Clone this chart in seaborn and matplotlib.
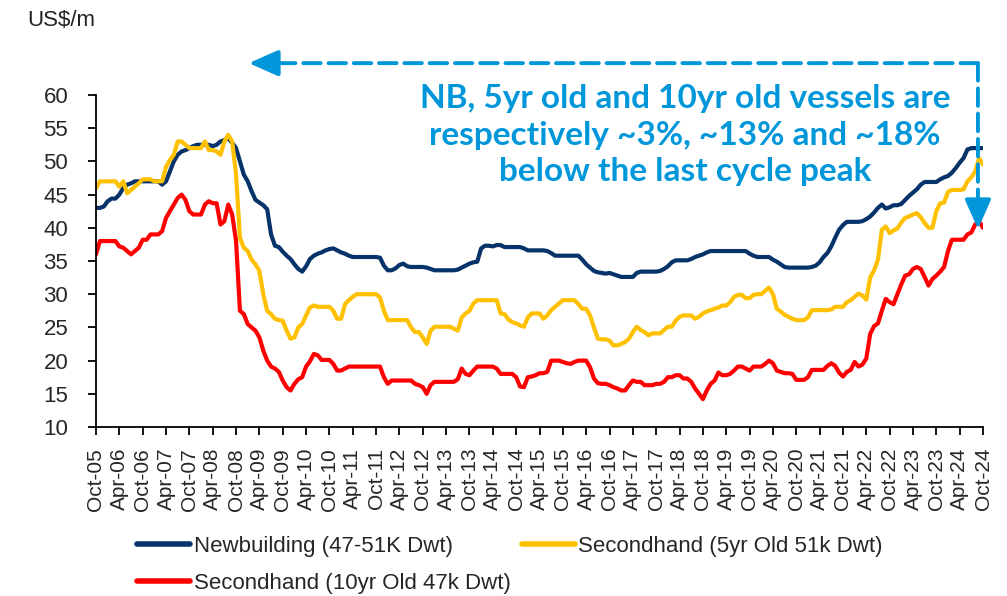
import numpy as np
import pandas as pd
import matplotlib
matplotlib.use("Agg")
import matplotlib.pyplot as plt
from matplotlib.lines import Line2D
import seaborn as sns

# ---------------- data (monthly, Oct-05 .. Oct-24) ----------------
months = pd.date_range("2005-10-01", "2024-10-01", freq="MS")

newbuilding = [
    43, 43, 43.2, 44, 44.4, 44.4, 45, 46, 46.5, 46.7,
    47, 47, 47, 47, 47, 47, 47, 46.5, 47, 48.5,
    50, 51, 51.5, 51.7, 52, 52.3, 52.5, 52.5, 52.5, 52.5,
    52.3, 52.5, 53, 53.2, 53.5, 52.8, 52, 50, 48, 47,
    45.5, 44.2, 43.8, 43.4, 42.8, 39, 37.3, 37.1, 36.4, 35.8,
    35.3, 34.5, 33.8, 33.4, 34.2, 35.3, 35.8, 36.1, 36.3, 36.6,
    36.8, 36.9, 36.6, 36.3, 36.1, 35.8, 35.6, 35.6, 35.6, 35.6,
    35.6, 35.6, 35.6, 35.5, 34.3, 33.6, 33.6, 33.9, 34.4, 34.6,
    34.2, 34.1, 34.1, 34.1, 34.1, 34, 33.8, 33.6, 33.6, 33.6,
    33.6, 33.6, 33.6, 33.7, 34, 34.3, 34.6, 34.8, 34.9, 36.9,
    37.3, 37.3, 37.2, 37.4, 37.4, 37.1, 37.1, 37.1, 37.1, 37.1,
    36.9, 36.6, 36.6, 36.6, 36.6, 36.6, 36.5, 36.2, 35.8, 35.8,
    35.8, 35.8, 35.8, 35.8, 35.8, 35.2, 34.5, 34, 33.5, 33.3,
    33.2, 33.1, 33.2, 33, 32.8, 32.6, 32.6, 32.6, 32.6, 33.2,
    33.4, 33.4, 33.4, 33.4, 33.4, 33.5, 33.8, 34.2, 34.8, 35.1,
    35.1, 35.1, 35.1, 35.3, 35.6, 35.8, 36, 36.3, 36.5, 36.5,
    36.5, 36.5, 36.5, 36.5, 36.5, 36.5, 36.5, 36.5, 36.1, 35.8,
    35.6, 35.6, 35.6, 35.6, 35.2, 34.9, 34.5, 34.1, 34, 34,
    34, 34, 34, 34, 34.1, 34.3, 34.8, 35.6, 36.2, 37.2,
    38.5, 39.7, 40.4, 40.9, 40.9, 40.9, 40.9, 41, 41.3, 41.7,
    42.3, 43, 43.5, 42.9, 43.1, 43.4, 43.4, 43.6, 44.2, 44.8,
    45.3, 45.8, 46.5, 46.9, 46.9, 46.9, 46.9, 47.3, 47.6, 47.8,
    48.3, 49, 49.8, 50.5, 51.8, 52, 52, 52, 52,
]

secondhand_5yr = [
    46, 47, 47, 47, 47, 47, 46.2, 47, 45.2, 45.7,
    46.2, 46.7, 47.3, 47.3, 47.3, 47, 47, 47, 49.2, 50.2,
    51, 53, 53, 52.5, 52, 52, 52, 52, 53, 51.7,
    51.7, 51.5, 51, 53, 54, 53, 48, 38.5, 37, 36.5,
    35.2, 34.5, 33.5, 30, 27.5, 27, 26.3, 26.1, 26, 24.5,
    23.3, 23.5, 25, 25.5, 26.8, 28, 28.3, 28.1, 28.1, 28.1,
    28.1, 27.5, 26.3, 26.3, 28.5, 29.1, 29.6, 30, 30, 30,
    30, 30, 30, 29.5, 27.5, 26.1, 26.1, 26.1, 26.1, 26.1,
    26.1, 25, 24.3, 24.3, 23.5, 22.5, 24.5, 25.1, 25.1, 25.1,
    25.1, 25.1, 24.8, 24.5, 26.5, 27.1, 27.5, 28.6, 29.1, 29.1,
    29.1, 29.1, 29.1, 29.1, 27.1, 27, 26.2, 25.8, 25.6, 25.3,
    25.1, 26.5, 27.1, 27.1, 27.1, 26.3, 26.8, 27.6, 28.1, 28.6,
    29.1, 29.1, 29.1, 29.1, 28.5, 27.8, 27.8, 26.8, 25, 23.3,
    23.2, 23.2, 23, 22.3, 22.3, 22.5, 22.8, 23.3, 24.3, 25.1,
    24.6, 24.3, 23.8, 24.1, 24.1, 24.1, 24.6, 25.1, 25.1, 26,
    26.6, 26.8, 26.8, 26.8, 26.3, 26.6, 27.1, 27.4, 27.6, 27.8,
    28, 28.3, 28.3, 28.8, 29.6, 29.9, 29.9, 29.4, 29.4, 29.9,
    30, 30, 30.5, 31, 30, 27.8, 27.4, 26.9, 26.6, 26.3,
    26.1, 26.1, 26.1, 26.5, 27.6, 27.6, 27.6, 27.6, 27.6, 27.7,
    28.1, 28.1, 28.1, 28.8, 29.1, 29.6, 30.1, 29.8, 29.2, 32.5,
    33.6, 35.2, 39.7, 40.2, 39.2, 39.6, 39.9, 40.8, 41.5, 41.7,
    42, 42.2, 41.6, 40.7, 40, 40, 42.5, 43.7, 43.8, 45.4,
    45.7, 45.7, 45.7, 45.8, 47, 47.6, 48.5, 50.5, 49.5,
]

secondhand_10yr = [
    36, 38, 38, 38, 38, 38, 37.2, 37, 36.5, 36,
    36.5, 37, 38.2, 38.2, 39, 39, 39, 39.5, 41.5, 42.5,
    43.5, 44.5, 45, 44.2, 42.5, 42, 42, 42, 43.5, 44,
    43.7, 43.7, 40.5, 41, 43.5, 42, 38, 27.5, 27, 25.5,
    25, 24.5, 23.5, 21.5, 20, 19.1, 18.8, 18.3, 17, 16,
    15.5, 16.5, 17.2, 17.5, 19.1, 19.9, 21, 20.8, 20.1, 20.1,
    20.1, 19.5, 18.5, 18.5, 18.8, 19.1, 19.1, 19.1, 19.1, 19.1,
    19.1, 19.1, 19.1, 19.1, 17.5, 16.5, 17, 17, 17, 17,
    17, 17, 16.5, 16.3, 16, 15, 16.3, 16.8, 16.8, 16.8,
    16.8, 16.8, 16.8, 17.2, 18.8, 18, 17.8, 18.5, 19.1, 19.1,
    19.1, 19.1, 19.1, 18.8, 18, 18, 18, 18, 17.5, 16.1,
    16, 17.5, 17.6, 17.8, 18.1, 18.1, 18.3, 20, 20, 20,
    19.8, 19.6, 19.5, 19.8, 20, 20, 20, 19, 17.3, 16.6,
    16.5, 16.5, 16.3, 16, 15.8, 15.5, 15.5, 16.3, 17, 16.8,
    16.8, 16.3, 16.3, 16.3, 16.5, 16.5, 16.8, 17.5, 17.5, 17.8,
    17.8, 17.3, 17.3, 16.8, 15.8, 15, 14.2, 15.5, 16.5, 17,
    18.2, 17.8, 17.8, 18, 18.5, 19.1, 19.1, 18.8, 18.5, 19.1,
    19.1, 19.1, 19.5, 20, 19.6, 18.5, 18.3, 18.1, 18.1, 18,
    17.1, 17.1, 17.1, 17.5, 18.6, 18.6, 18.6, 18.6, 19.2, 19.6,
    19.2, 18.2, 17.6, 18.3, 18.6, 19.8, 19.1, 19.4, 20.3, 24,
    25.2, 25.6, 27.5, 29.3, 28.8, 28.5, 30, 31.5, 32.8, 33,
    33.8, 34.1, 33.8, 32.6, 31.3, 32.3, 32.8, 33.4, 34.1, 36.5,
    38.2, 38.2, 38.2, 38.2, 39, 39.3, 40.5, 41, 40,
]

series_names = ["Newbuilding (47-51K Dwt)",
                "Secondhand (5yr Old 51k Dwt)",
                "Secondhand (10yr Old 47k Dwt)"]

tick_labels = ["Oct-05", "Apr-06", "Oct-06", "Apr-07", "Oct-07", "Apr-08", "Oct-08",
               "Apr-09", "Oct-09", "Apr-10", "Oct-10", "Apr-11", "Oct-11", "Apr-12",
               "Oct-12", "Apr-13", "Oct-13", "Apr-14", "Oct-14", "Apr-15", "Oct-15",
               "Apr-16", "Oct-16", "Apr-17", "Oct-17", "Apr-18", "Oct-18", "Apr-19",
               "Oct-19", "Apr-20", "Oct-20", "Apr-21", "Oct-21", "Apr-22", "Oct-22",
               "Apr-23", "Oct-23", "Apr-24", "Oct-24"]

annotation_text = ("NB, 5yr old and 10yr old vessels are\n"
                   "respectively ~3%, ~13% and ~18%\n"
                   "below the last cycle peak")

# ---------------- styling ----------------
colors = {series_names[0]: "#06336A",
          series_names[1]: "#FFC000",
          series_names[2]: "#FF0000"}
ann_color = "#0097DA"

sns.set_theme(style="white")
plt.rcParams["font.family"] = ["Liberation Sans", "DejaVu Sans"]

idx = np.arange(len(months))
df = pd.concat([
    pd.DataFrame({"m": idx, "month": months, "value": vals, "series": name})
    for name, vals in zip(series_names, [newbuilding, secondhand_5yr, secondhand_10yr])
])

fig = plt.figure(figsize=(10.07, 5.96), dpi=100)
ax = fig.add_axes([96 / 1007, 1 - 427 / 596, 887 / 1007, 332 / 596])

sns.lineplot(data=df, x="m", y="value", hue="series", hue_order=series_names,
             palette=colors, linewidth=3.0, ax=ax, legend=False)

ax.set_xlim(0, len(months) - 1)
ax.set_ylim(10, 60)
ax.set_yticks(np.arange(10, 61, 5))
ax.set_xticks(idx[::6])
ax.set_xticklabels(tick_labels, rotation=90)
ax.set_xlabel("")
ax.set_ylabel("")

for s in ["top", "right"]:
    ax.spines[s].set_visible(False)
for s in ["left", "bottom"]:
    ax.spines[s].set_color("black")
    ax.spines[s].set_linewidth(1.3)

ax.tick_params(axis="y", direction="out", length=6, width=1.3, color="black",
               labelsize=16, pad=14, left=True)
ax.tick_params(axis="x", direction="out", length=6, width=1.3, color="black",
               labelsize=15, pad=9, bottom=True)

fig.text(27 / 1007, 1 - 20 / 596, "US$/m", ha="left", va="center", fontsize=16,
         color="#222222")

fig.text(685 / 1007, 1 - 135 / 596, annotation_text, ha="center", va="center",
         fontsize=24, fontweight="bold", color=ann_color, family=["Lato", "DejaVu Sans"],
         linespacing=1.3)

# dashed arrows
corner = (226.7, 64.8)
dash = (0, (4.5, 2.0))
ax.annotate("", xy=(42.0, 64.8), xytext=corner, xycoords="data",
            arrowprops=dict(arrowstyle="-", color=ann_color, lw=2.8, linestyle=dash,
                            shrinkA=0, shrinkB=0), annotation_clip=False)
ax.annotate("", xy=(39.3, 64.8), xytext=(44.0, 64.8),
            arrowprops=dict(arrowstyle="-|>,head_length=0.9,head_width=0.4",
                            color=ann_color, lw=2.8, shrinkA=0, shrinkB=0,
                            mutation_scale=20), annotation_clip=False)
ax.annotate("", xy=(226.7, 42.5), xytext=corner,
            arrowprops=dict(arrowstyle="-", color=ann_color, lw=2.8, linestyle=dash,
                            shrinkA=0, shrinkB=0), annotation_clip=False)
ax.annotate("", xy=(226.7, 39.8), xytext=(226.7, 43.5),
            arrowprops=dict(arrowstyle="-|>,head_length=0.9,head_width=0.4",
                            color=ann_color, lw=2.8, shrinkA=0, shrinkB=0,
                            mutation_scale=20), annotation_clip=False)

# legend (NB & 10yr in first column, 5yr in second)
handles = [Line2D([], [], color=colors[n], lw=4, solid_capstyle="round") for n in series_names]
order = [0, 2, 1]
fig.legend([handles[i] for i in order], [series_names[i] for i in order],
           ncol=2, loc="upper left", bbox_to_anchor=(137 / 1007, 1 - 536 / 596),
           frameon=False, fontsize=16, handlelength=2.4, handletextpad=0.15,
           columnspacing=0.5, labelspacing=0.72, borderpad=0, borderaxespad=0)

fig.savefig("out.png", dpi=100)
